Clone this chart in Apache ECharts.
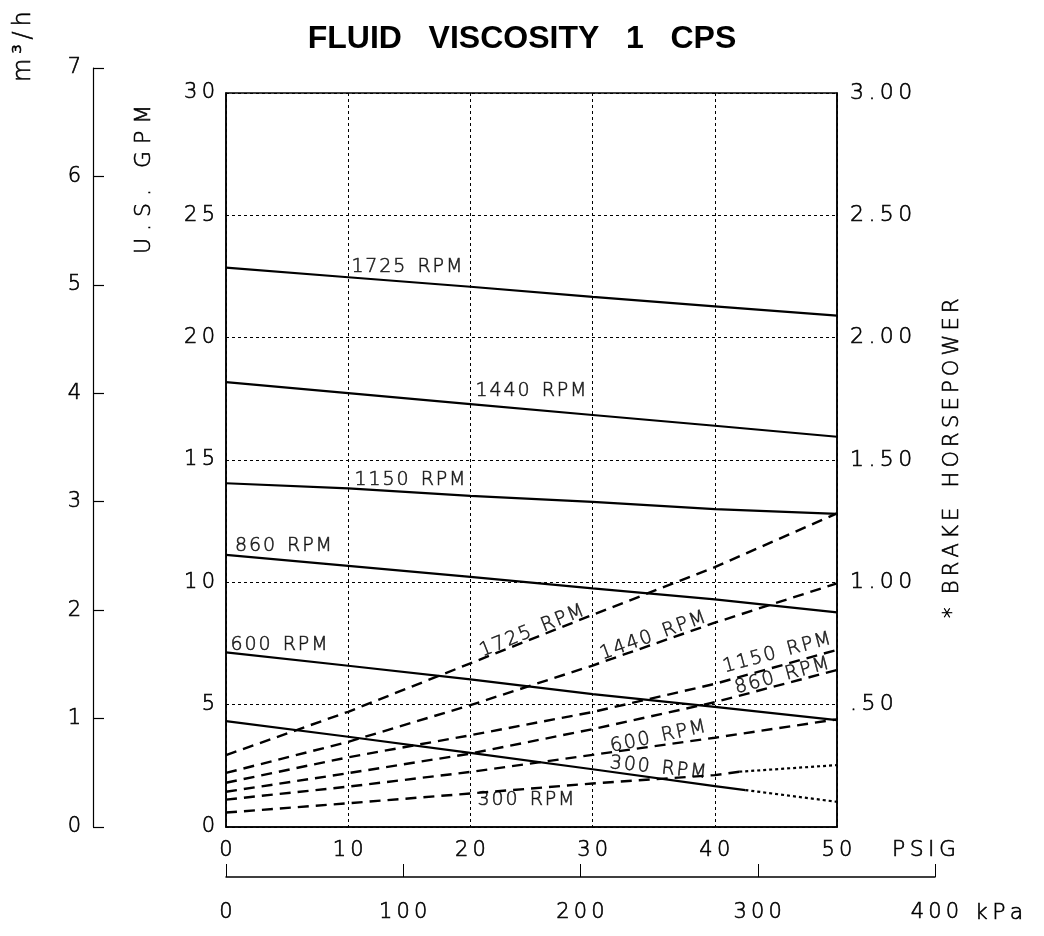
<!DOCTYPE html>
<html>
<head>
<meta charset="utf-8">
<title>Fluid viscosity 1 cps</title>
<script src="https://cdn.jsdelivr.net/npm/echarts@6/dist/echarts.min.js"></script>
<style>
  html, body { margin: 0; padding: 0; background: #fff; }
  #chart { width: 1044px; height: 936px; }
</style>
</head>
<body>
<div id="chart"></div>
<script>
// Discharge pressure (PSIG) at which each curve is sampled
const psi = [0, 10, 20, 30, 40, 50];

// Capacity, U.S. GPM, for each pump speed
const gpm1725 = [22.86, 22.47, 22.08, 21.67, 21.28, 20.90];
const gpm1440 = [18.18, 17.73, 17.28, 16.84, 16.40, 15.95];
const gpm1150 = [14.05, 13.84, 13.53, 13.29, 12.99, 12.80];
const gpm860  = [11.12, 10.67, 10.22, 9.75, 9.30, 8.77];
const gpm600  = [7.14, 6.59, 6.03, 5.43, 4.91, 4.37];
// 300 RPM capacity: drawn solid up to 42.5 PSIG, dotted beyond
const psi300    = [0, 10, 20, 30, 40, 42.5];
const gpm300    = [4.33, 3.69, 3.03, 2.36, 1.67, 1.51];
const psi300Ext = [42.5, 50];
const gpm300Ext = [1.51, 1.03];

// Brake horsepower for each pump speed
const bhp1725 = [0.294, 0.471, 0.669, 0.867, 1.062, 1.282];
const bhp1440 = [0.221, 0.348, 0.498, 0.660, 0.835, 0.996];
const bhp1150 = [0.181, 0.285, 0.375, 0.470, 0.585, 0.724];
const bhp860  = [0.144, 0.220, 0.300, 0.400, 0.510, 0.642];
const bhp600  = [0.112, 0.165, 0.225, 0.295, 0.365, 0.440];
// 300 RPM horsepower: dashed up to 42 PSIG, dotted beyond
const psiBhp300    = [0, 10, 20, 30, 40, 42];
const bhp300       = [0.059, 0.097, 0.137, 0.178, 0.212, 0.226];
const psiBhp300Ext = [42, 50];
const bhp300Ext    = [0.226, 0.253];

// Axis ranges and tick labels
const gpmTicks = [0, 5, 10, 15, 20, 25, 30];
const bhpTicks = ['', '.50', '1.00', '1.50', '2.00', '2.50', '3.00'];
const m3hMax = 7;
const kpaMax = 400;

// Curve captions: text, pressure (PSIG), height on the GPM scale, tilt (deg)
const captions = [
  ['1725 RPM', 14.8, 22.89, 0],
  ['1440 RPM', 24.96, 17.80, 0],
  ['1150 RPM', 15.06, 14.18, 0],
  ['860 RPM', 4.7, 11.50, 0],
  ['600 RPM', 4.34, 7.44, 0],
  ['300 RPM', 24.55, 1.10, 0],
  ['1725 RPM', 25.04, 8.01, 22],
  ['1440 RPM', 34.94, 7.81, 20],
  ['1150 RPM', 45.09, 7.11, 15],
  ['860 RPM', 45.5, 6.17, 15],
  ['600 RPM', 35.35, 3.68, 12],
  ['300 RPM', 35.35, 2.41, -6]
];

const FONT = 'DejaVu Sans';
const spaced = s => String(s).split('').join('\u2009');
const tight = s => String(s).split('').join('\u200A');
const pairs = (xs, ys) => xs.map((x, i) => [x, ys[i]]);

const solid = { color: '#000', width: 2.2 };
const dashed = { color: '#000', width: 2.4, type: [11, 7] };
const dotted = { color: '#000', width: 2.2, type: [3, 3] };

function curve(data, yAxisIndex, style) {
  return {
    type: 'line', xAxisIndex: 0, yAxisIndex: yAxisIndex,
    data: data, symbol: 'none', silent: true, animation: false,
    lineStyle: style
  };
}

// Thin plotter-style lettering, darkened with a hairline outline
const ink = { textBorderColor: '#000', textBorderWidth: 0.6 };
const tickFont = Object.assign({ fontFamily: FONT, fontWeight: 200, fontSize: 21, color: '#000' }, ink);
const gText = (text, size) => ({
  text: text, font: '200 ' + size + 'px "DejaVu Sans"', fill: '#000',
  stroke: '#000', lineWidth: 0.6, textVerticalAlign: 'top'
});

const option = {
  animation: false,
  backgroundColor: '#fff',
  title: {
    text: 'FLUID   VISCOSITY   1   CPS',
    left: 'center', top: 18,
    textStyle: { fontFamily: 'Liberation Sans', fontWeight: 'bold', fontSize: 32, color: '#000' }
  },
  grid: [
    { left: 226, top: 93, width: 611, height: 734, show: true, borderColor: '#000', borderWidth: 1.5, backgroundColor: 'transparent' },
    { left: 226, top: 876, width: 709, height: 1 },
    { left: 93, top: 68, width: 1, height: 759 }
  ],
  xAxis: [
    {
      gridIndex: 0, type: 'value', min: 0, max: 50, interval: 10,
      axisLine: { lineStyle: { color: '#000', width: 1.5 } },
      axisTick: { show: false },
      splitLine: { show: true, lineStyle: { color: '#000', width: 1, type: [3, 3] } },
      axisLabel: Object.assign({ margin: 13, formatter: v => spaced(v) }, tickFont)
    },
    {
      gridIndex: 1, type: 'value', min: 0, max: kpaMax, interval: 100,
      axisLine: { lineStyle: { color: '#000', width: 1.5 } },
      axisTick: { show: true, inside: true, length: 13, lineStyle: { color: '#000', width: 1 } },
      splitLine: { show: false },
      axisLabel: Object.assign({ margin: 25, formatter: v => spaced(v) }, tickFont)
    },
    { gridIndex: 2, type: 'value', show: false, min: 0, max: 1 }
  ],
  yAxis: [
    {
      gridIndex: 0, type: 'value', min: gpmTicks[0], max: gpmTicks[gpmTicks.length - 1], interval: 5,
      axisLine: { show: true, lineStyle: { color: '#000', width: 1.5 } },
      axisTick: { show: false },
      splitLine: { show: true, lineStyle: { color: '#000', width: 1, type: [3, 3] } },
      axisLabel: Object.assign({ margin: 11, formatter: v => spaced(v) }, tickFont)
    },
    {
      gridIndex: 0, type: 'value', position: 'right', min: 0, max: 3, interval: 0.5,
      axisLine: { show: true, lineStyle: { color: '#000', width: 1.5 } },
      axisTick: { show: false },
      splitLine: { show: false },
      axisLabel: Object.assign({ margin: 13, formatter: (v, i) => spaced(bhpTicks[i] || '') }, tickFont, { fontSize: 22 })
    },
    { gridIndex: 1, type: 'value', show: false },
    {
      gridIndex: 2, type: 'value', position: 'left', min: 0, max: m3hMax, interval: 1,
      axisLine: { show: true, lineStyle: { color: '#000', width: 1.2 } },
      axisTick: { show: true, inside: true, length: 11, lineStyle: { color: '#000', width: 1.2 } },
      splitLine: { show: false },
      axisLabel: Object.assign({ margin: 12 }, tickFont)
    }
  ],
  graphic: [
    { type: 'text', x: 12, y: 82, rotation: Math.PI / 2,
      style: gText('m\u2009³\u2009/\u2009h', 24) },
    { type: 'text', x: 133, y: 254, rotation: Math.PI / 2,
      style: gText('U . S .   G P M', 22) },
    { type: 'text', x: 942, y: 618, rotation: Math.PI / 2,
      style: gText('*  ' + spaced('BRAKE') + '   ' + spaced('HORSEPOWER'), 21) },
    { type: 'text', x: 892, y: 839,
      style: gText(spaced('PSIG'), 22) },
    { type: 'text', x: 975, y: 902,
      style: gText(spaced('kPa'), 22) }
  ],
  series: [
    curve(pairs(psi, gpm1725), 0, solid),
    curve(pairs(psi, gpm1440), 0, solid),
    curve(pairs(psi, gpm1150), 0, solid),
    curve(pairs(psi, gpm860), 0, solid),
    curve(pairs(psi, gpm600), 0, solid),
    curve(pairs(psi300, gpm300), 0, solid),
    curve(pairs(psi300Ext, gpm300Ext), 0, dotted),
    curve(pairs(psi, bhp1725), 1, dashed),
    curve(pairs(psi, bhp1440), 1, dashed),
    curve(pairs(psi, bhp1150), 1, dashed),
    curve(pairs(psi, bhp860), 1, dashed),
    curve(pairs(psi, bhp600), 1, dashed),
    curve(pairs(psiBhp300, bhp300), 1, dashed),
    curve(pairs(psiBhp300Ext, bhp300Ext), 1, dotted),
    {
      type: 'scatter', xAxisIndex: 0, yAxisIndex: 0, symbolSize: 0, silent: true,
      data: captions.map(c => ({
        name: c[0], value: [c[1], c[2]],
        label: { rotate: c[3] }
      })),
      label: Object.assign({
        show: true, position: 'inside', align: 'center', verticalAlign: 'middle',
        formatter: p => tight(p.name.split(' ')[0]) + '  ' + tight('RPM'),
        fontFamily: FONT, fontWeight: 200, fontSize: 19, color: '#000'
      }, ink)
    }
  ]
};

const chart = echarts.init(document.getElementById('chart'), null, { renderer: 'canvas' });
chart.setOption(option);
</script>
</body>
</html>
